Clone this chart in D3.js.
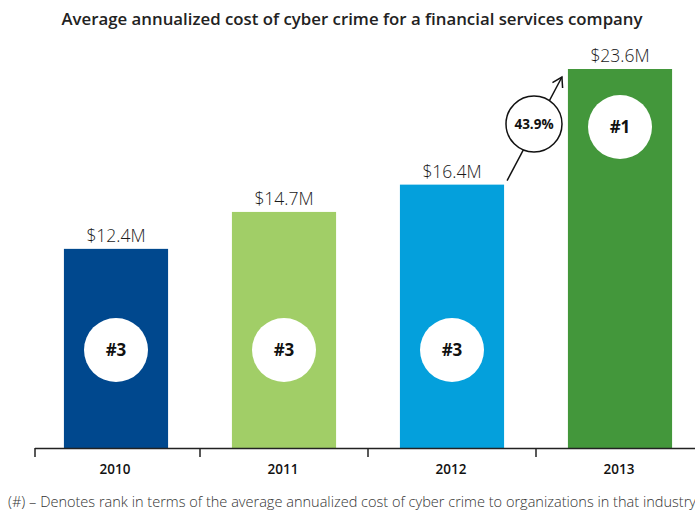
<!DOCTYPE html>
<html><head><meta charset="utf-8">
<script src="https://cdn.jsdelivr.net/npm/d3@7"></script>
<style>body{margin:0;background:#fff}svg{display:block}text{font-family:"Open Sans",sans-serif}</style>
</head><body>
<svg id="c" width="695" height="512"></svg>
<script>
const years = ["2010", "2011", "2012", "2013"];
const costs = [12.4, 14.7, 16.4, 23.6];
const valueLabels = ["$12.4M", "$14.7M", "$16.4M", "$23.6M"];
const ranks = ["#3", "#3", "#3", "#1"];
const colors = ["#00488E", "#A1CE67", "#04A0DC", "#43973B"];
const growthLabel = "43.9%";
const title = "Average annualized cost of cyber crime for a financial services company";
const footnote = "(#) \u2013 Denotes rank in terms of the average annualized cost of cyber crime to organizations in that industry";

const svg = d3.select("#c");
const x = d3.scaleBand().domain(years).range([32, 704]).paddingInner(0.38).paddingOuter(0.19);
const y = d3.scaleLinear().domain([0, 23.6]).range([448, 69]);
const step = x.step();

svg.append("text").attr("x", 352).attr("y", 25).attr("text-anchor", "middle")
  .attr("font-size", 15.5).attr("font-weight", 600).attr("fill", "#222")
  .attr("textLength", 581).attr("lengthAdjust", "spacingAndGlyphs").text(title);

const g = svg.selectAll("g.bar").data(years).enter().append("g").attr("class", "bar");
g.append("rect").attr("x", d => x(d)).attr("width", x.bandwidth())
  .attr("y", (d, i) => y(costs[i])).attr("height", (d, i) => y(0) - y(costs[i]))
  .attr("fill", (d, i) => colors[i]);
g.append("text").attr("x", d => x(d) + x.bandwidth() / 2).attr("y", (d, i) => y(costs[i]) - 7)
  .attr("text-anchor", "middle").attr("font-size", 17.5).attr("font-weight", 300).attr("fill", "#1a1a1a")
  .text((d, i) => valueLabels[i]);
const rankY = (d, i) => ranks[i] === "#1" ? y(costs[i]) + 58 : 350;
g.append("circle").attr("cx", d => x(d) + x.bandwidth() / 2).attr("cy", rankY).attr("r", 32).attr("fill", "#fff");
g.append("text").attr("x", d => x(d) + x.bandwidth() / 2).attr("y", (d, i) => rankY(d, i) + 6)
  .attr("text-anchor", "middle").attr("font-size", 17).attr("font-weight", 700).attr("fill", "#111")
  .text((d, i) => ranks[i]);

// axis
const ax = svg.append("g");
ax.append("line").attr("x1", 35).attr("x2", 695).attr("y1", 448.5).attr("y2", 448.5)
  .attr("stroke", "#222").attr("stroke-width", 1.5);
years.forEach((d, i) => {
  const bx = i === 0 ? 35 : x(d) - step * x.paddingInner() / 2;
  ax.append("line").attr("x1", bx).attr("x2", bx).attr("y1", 448).attr("y2", 457).attr("stroke", "#222").attr("stroke-width", 1.5);
  ax.append("text").attr("x", x(d) + x.bandwidth() / 2 - 1).attr("y", 474).attr("text-anchor", "middle")
    .attr("font-size", 13.5).attr("font-weight", 600).attr("fill", "#111").text(d);
});

// growth arrow from 2012 to 2013
const x0 = x(years[2]) + x.bandwidth() + 3, y0 = y(costs[2]) - 4;
const x1 = x(years[3]) - 6, y1 = y(costs[3]) + 8;
const ang = Math.atan2(y1 - y0, x1 - x0);
svg.append("line").attr("x1", x0).attr("y1", y0).attr("x2", x1).attr("y2", y1).attr("stroke", "#111").attr("stroke-width", 1.5);
const hl = 11;
svg.append("path").attr("d", `M${x1 + hl * Math.cos(ang + Math.PI - 0.55)},${y1 + hl * Math.sin(ang + Math.PI - 0.55)}L${x1},${y1}L${x1 + hl * Math.cos(ang + Math.PI + 0.55)},${y1 + hl * Math.sin(ang + Math.PI + 0.55)}`)
  .attr("fill", "none").attr("stroke", "#111").attr("stroke-width", 1.5);
const cx = 534, cy = 124;
svg.append("circle").attr("cx", cx).attr("cy", cy).attr("r", 28).attr("fill", "#fff").attr("stroke", "#111").attr("stroke-width", 1.5);
svg.append("text").attr("x", cx).attr("y", cy + 5).attr("text-anchor", "middle").attr("font-size", 13.5).attr("font-weight", 700).attr("fill", "#111").text(growthLabel);

svg.append("text").attr("x", 8).attr("y", 507).attr("font-size", 14).attr("font-weight", 300).attr("fill", "#333")
  .attr("textLength", 688).attr("lengthAdjust", "spacingAndGlyphs").text(footnote);
</script>
</body></html>
